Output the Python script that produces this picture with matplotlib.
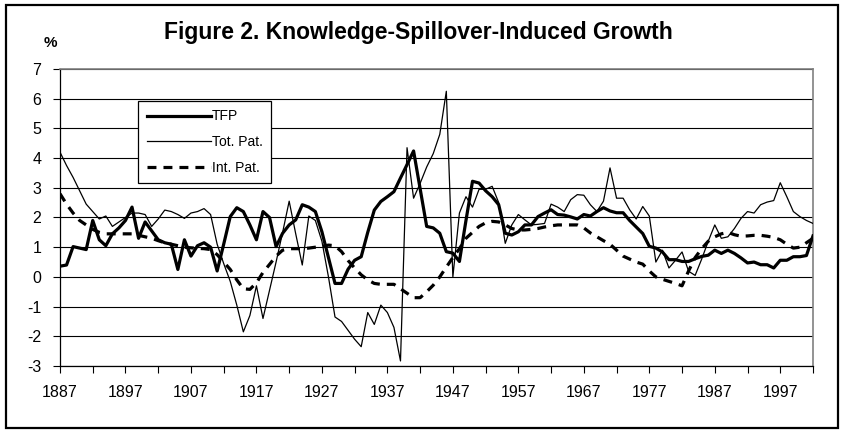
import matplotlib
matplotlib.use('Agg')
import matplotlib.pyplot as plt
from matplotlib.patches import Rectangle

plt.rcParams['font.family'] = ['Liberation Sans', 'DejaVu Sans']
plt.rcParams['axes.unicode_minus'] = False

title = 'Figure 2. Knowledge-Spillover-Induced Growth'
y_unit = '%'
series_names = ['TFP', 'Tot. Pat.', 'Int. Pat.']

years = list(range(1887, 2003))

tfp = [
    0.36, 0.40, 1.02, 0.97, 0.92, 1.90, 1.25, 1.05, 1.45, 1.65,   # 1887-1896
    1.90, 2.35, 1.30, 1.85, 1.55, 1.25, 1.15, 1.10, 0.25, 1.25,   # 1897-1906
    0.70, 1.05, 1.15, 1.00, 0.20, 1.10, 2.03, 2.33, 2.20, 1.75,   # 1907-1916
    1.25, 2.20, 2.00, 1.02, 1.47, 1.75, 1.92, 2.43, 2.35, 2.20,   # 1917-1926
    1.52, 0.65, -0.22, -0.22, 0.26, 0.56, 0.68, 1.50, 2.25, 2.54, # 1927-1936
    2.70, 2.87, 3.33, 3.78, 4.24, 2.97, 1.70, 1.65, 1.47, 0.85,   # 1937-1946
    0.80, 0.52, 1.90, 3.22, 3.16, 2.90, 2.70, 2.43, 1.47, 1.41,   # 1947-1956
    1.52, 1.75, 1.75, 2.03, 2.15, 2.26, 2.10, 2.08, 2.02, 1.95,   # 1957-1966
    2.10, 2.05, 2.20, 2.33, 2.22, 2.16, 2.16, 1.90, 1.68, 1.46,   # 1967-1976
    1.03, 0.97, 0.84, 0.58, 0.58, 0.52, 0.52, 0.61, 0.69, 0.73,   # 1977-1986
    0.90, 0.79, 0.90, 0.79, 0.64, 0.47, 0.50, 0.41, 0.41, 0.30,   # 1987-1996
    0.56, 0.56, 0.68, 0.68, 0.72, 1.38,                           # 1997-2002
]

tot_pat = [
    4.20, 3.75, 3.35, 2.90, 2.45, 2.20, 1.95, 2.05, 1.70, 1.85,
    2.00, 2.15, 2.15, 2.10, 1.70, 1.95, 2.25, 2.20, 2.10, 1.97,
    2.15, 2.20, 2.30, 2.10, 1.10, 0.45, -0.15, -0.95, -1.85, -1.30,
    -0.30, -1.40, -0.45, 0.50, 1.50, 2.55, 1.45, 0.40, 2.05, 1.90,
    1.20, 0.00, -1.35, -1.50, -1.80, -2.10, -2.35, -1.20, -1.60, -0.95,
    -1.20, -1.70, -2.83, 4.35, 2.65, 3.15, 3.70, 4.15, 4.80, 6.25,
    0.00, 2.15, 2.70, 2.35, 2.95, 2.95, 3.05, 2.50, 1.13, 1.75,
    2.10, 1.92, 1.75, 1.77, 1.80, 2.45, 2.35, 2.20, 2.60, 2.77,
    2.75, 2.43, 2.20, 2.55, 3.67, 2.65, 2.65, 2.26, 1.95, 2.37,
    2.05, 0.50, 0.90, 0.30, 0.56, 0.84, 0.19, 0.05, 0.60, 1.20,
    1.75, 1.30, 1.35, 1.63, 1.97, 2.20, 2.15, 2.43, 2.52, 2.57,
    3.17, 2.70, 2.20, 2.03, 1.90, 1.80,
]

int_pat = [
    2.80, 2.45, 2.15, 1.90, 1.75, 1.60, 1.50, 1.45, 1.45, 1.45,
    1.45, 1.45, 1.40, 1.35, 1.30, 1.22, 1.15, 1.10, 1.05, 1.00,
    0.98, 0.96, 0.95, 0.92, 0.75, 0.50, 0.25, -0.10, -0.40, -0.42,
    -0.20, 0.15, 0.42, 0.70, 0.90, 0.95, 0.95, 0.95, 0.97, 1.00,
    1.03, 1.07, 1.05, 0.85, 0.55, 0.30, 0.07, -0.10, -0.22, -0.25,
    -0.25, -0.25, -0.40, -0.55, -0.70, -0.70, -0.50, -0.28, 0.00, 0.33,
    0.65, 0.95, 1.30, 1.50, 1.70, 1.82, 1.87, 1.85, 1.75, 1.63,
    1.58, 1.58, 1.60, 1.63, 1.68, 1.72, 1.75, 1.75, 1.75, 1.75,
    1.65, 1.48, 1.35, 1.22, 1.10, 0.90, 0.70, 0.60, 0.50, 0.43,
    0.20, 0.00, -0.08, -0.15, -0.22, -0.30, 0.20, 0.65, 0.95, 1.20,
    1.35, 1.45, 1.50, 1.42, 1.37, 1.38, 1.40, 1.40, 1.37, 1.33,
    1.25, 1.10, 0.97, 1.00, 1.15, 1.30,
]

tick_years = list(range(1887, 2003, 5))
tick_labels = [str(y) if (y - 1887) % 10 == 0 else '' for y in tick_years]
y_ticks = list(range(-3, 8))

W, H = 842, 432
fig = plt.figure(figsize=(W / 100, H / 100), dpi=100)
# plot area in pixels: x 60..813, y 69..366 (from top)
ax = fig.add_axes([60 / W, (H - 366) / H, 753 / W, 297 / H])

ax.plot(years, tfp, color='black', lw=2.3, label=series_names[0], zorder=3)
ax.plot(years, tot_pat, color='black', lw=0.9, label=series_names[1], zorder=3)
ax.plot(years, int_pat, color='black', lw=2.3, linestyle=(0, (2.8, 2.2)),
        dash_capstyle='butt', label=series_names[2], zorder=3)

ax.set_xlim(1887, 2002)
ax.set_ylim(-3, 7)
ax.set_xticks(tick_years)
ax.set_xticklabels(tick_labels)
ax.set_yticks(y_ticks)
ax.grid(axis='y', color='black', lw=0.8)
ax.set_axisbelow(True)

for side in ['left', 'bottom']:
    ax.spines[side].set_color('black')
    ax.spines[side].set_linewidth(0.9)
for side in ['top', 'right']:
    ax.spines[side].set_color('#808080')
    ax.spines[side].set_linewidth(1.2)

ax.tick_params(direction='out', length=5, width=0.8, labelsize=11.5, colors='black')
ax.tick_params(axis='y', pad=8.5)
ax.tick_params(axis='x', pad=9)

leg = ax.legend(loc='upper left', bbox_to_anchor=(0.104, 0.892), fontsize=10,
                frameon=True, fancybox=False, edgecolor='black', framealpha=1,
                handlelength=4.6, handletextpad=0.1, labelspacing=0.85,
                borderpad=0.6, borderaxespad=0)
leg.get_frame().set_linewidth(0.9)

fig.text(418 / W, 1 - 33 / H, title, ha='center', va='center',
         fontsize=16.5, fontweight='bold')
fig.text(50 / W, 1 - 43 / H, y_unit, ha='center', va='center',
         fontsize=11, fontweight='bold')

# outer chart border
fig.patches.append(Rectangle((6 / W, 4 / H), 832 / W, 423 / H, transform=fig.transFigure,
                             fill=False, lw=1.6, edgecolor='black'))

fig.savefig('out.png', dpi=100)
